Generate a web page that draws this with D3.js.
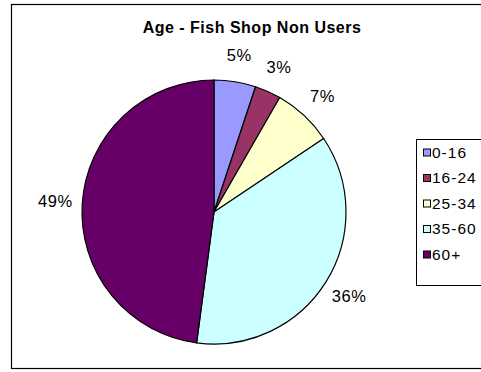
<!DOCTYPE html>
<html>
<head>
<meta charset="utf-8">
<script src="https://cdn.jsdelivr.net/npm/d3@7"></script>
<style>
  body { margin: 0; background: #fff; }
  text { font-family: "Liberation Sans", Arial, sans-serif; fill: #000; }
</style>
</head>
<body>
<svg id="chart" width="481" height="372"></svg>
<script>
// age groups and their share of fish shop non users
const ageGroups = ['0-16', '16-24', '25-34', '35-60', '60+']
const shares = [5.1, 3.2, 7.3, 36.5, 47.9]
const shareLabels = ['5%', '3%', '7%', '36%', '49%']
const sliceColors = ['#9999FF', '#993366', '#FFFFCC', '#CCFFFF', '#660066']

const svg = d3.select('#chart')

// outer chart border (runs off the right edge)
svg.append('rect')
  .attr('x', 11.5).attr('y', 4.5)
  .attr('width', 490).attr('height', 364)
  .attr('fill', '#fff').attr('stroke', '#000').attr('stroke-width', 1.2)

svg.append('text')
  .attr('x', 252).attr('y', 33)
  .attr('text-anchor', 'middle')
  .style('font-size', '16px').style('font-weight', 'bold').style('letter-spacing', '0.5px')
  .text('Age - Fish Shop Non Users')

const cx = 214, cy = 212, radius = 132

const pie = d3.pie().sort(null).value(d => d)
const arcs = pie(shares)
const arc = d3.arc().innerRadius(0).outerRadius(radius)
const labelArc = d3.arc().innerRadius(radius + 27).outerRadius(radius + 27)

const g = svg.append('g').attr('transform', `translate(${cx},${cy})`)

g.selectAll('path')
  .data(arcs)
  .join('path')
  .attr('d', arc)
  .attr('fill', (d, i) => sliceColors[i])
  .attr('stroke', '#000')
  .attr('stroke-width', 1.2)

g.selectAll('.lbl')
  .data(arcs)
  .join('text')
  .attr('class', 'lbl')
  .attr('transform', d => `translate(${labelArc.centroid(d)})`)
  .attr('text-anchor', 'middle')
  .attr('dy', '0.36em')
  .style('font-size', '16.5px').style('letter-spacing', '0.6px')
  .text((d, i) => shareLabels[i])

// legend
const legend = svg.append('g')
legend.append('rect')
  .attr('x', 416.5).attr('y', 139.5)
  .attr('width', 80).attr('height', 146)
  .attr('fill', '#fff').attr('stroke', '#000').attr('stroke-width', 1)

const rowY = d3.scalePoint().domain(ageGroups).range([157.5, 259.5])

const rows = legend.selectAll('.row')
  .data(ageGroups)
  .join('g')
  .attr('class', 'row')
  .attr('transform', d => `translate(0,${rowY(d)})`)

rows.append('rect')
  .attr('x', 423.5).attr('y', -8.5)
  .attr('width', 7).attr('height', 7)
  .attr('fill', (d, i) => sliceColors[i])
  .attr('stroke', '#000').attr('stroke-width', 1)

rows.append('text')
  .attr('x', 432).attr('y', 0)
  .style('font-size', '15.5px').style('letter-spacing', '1px')
  .text(d => d)
</script>
</body>
</html>
